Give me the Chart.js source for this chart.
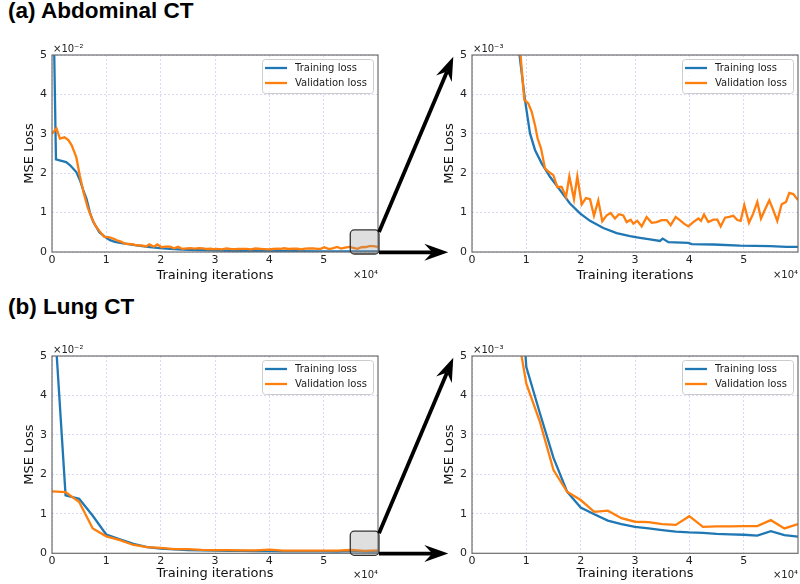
<!DOCTYPE html>
<html lang="en">
<head>
<meta charset="UTF-8">
<title>MSE loss curves</title>
<script src="https://cdn.jsdelivr.net/npm/chart.js"></script>
<style>
    body { margin: 0; background: #fff; }
    #pagina { position: relative; width: 800px; height: 584px; overflow: hidden; }
    canvas { position: absolute; }
    .titulo {
        position: absolute; left: 8px;
        font: bold 22.5px "Liberation Sans", Arial, sans-serif;
        line-height: 22px; color: #000; white-space: nowrap;
    }
</style>
</head>
<body>
<div id="pagina">
    <div class="titulo" style="top:0px">(a) Abdominal CT</div>
    <div class="titulo" style="top:296px">(b) Lung CT</div>

    <canvas id="abdCompleto" width="400" height="250" style="left:0;top:40px"></canvas>
    <canvas id="abdZoom" width="380" height="250" style="left:420px;top:40px"></canvas>
    <canvas id="lungCompleto" width="400" height="244" style="left:0;top:340px"></canvas>
    <canvas id="lungZoom" width="380" height="244" style="left:420px;top:340px"></canvas>

    <canvas id="setas" width="800" height="584" style="left:0;top:0;pointer-events:none"></canvas>
</div>

<script>
    // valores em unidades de 1e-3 (MSE)
    const abdTrainIter = [0, 700, 1500, 2500, 3200, 4300, 5000, 5520, 6100, 6700, 7300, 7900, 8360, 9360,
        10250, 11130, 12310, 13780, 15550, 17310, 19080, 20850, 23200, 25560, 27910, 29680, 31450, 33200,
        33700, 34700, 38220, 38810, 42640, 47350, 52650, 55600, 57600];
    const abdTrain = [85, 23.5, 23.2, 22.8, 22.0, 20.3, 18.0, 15.7, 13.5, 10.0, 7.6, 6.2, 5.04, 3.86,
        3.01, 2.59, 2.25, 1.91, 1.57, 1.23, 0.98, 0.79, 0.61, 0.48, 0.40, 0.36, 0.32, 0.28,
        0.34, 0.25, 0.23, 0.20, 0.19, 0.16, 0.15, 0.13, 0.13];

    const abdValIter = [0, 800, 1400, 2200, 2900, 3500, 4300, 4900, 5600, 6300,
        7000, 7700, 8400, 9240, 9950, 10550, 11130, 11600, 12190, 12900,
        13600, 14370, 15070, 15850, 16610, 17200, 18020, 18610, 19380, 20140,
        20850, 21550, 22310, 23020, 23800, 24500, 25260, 25970, 26730, 27330,
        28040, 28500, 29200, 29980, 30860, 31750, 32630, 33520, 34400, 35100,
        35990, 36870, 37460, 38220, 39100, 39990, 40460, 40990, 41760, 42640,
        43350, 43940, 44700, 45470, 46170, 46880, 47470, 48110, 48940, 49700,
        50410, 51060, 51770, 52530, 53240, 53940, 54710, 55480, 56060, 56770, 57600];
    const abdVal = [30.0, 31.4, 28.8, 29.1, 28.4, 27.0, 24.0, 19.5, 15.0, 11.3,
        8.7, 6.6, 5.3, 3.86, 3.77, 3.56, 3.22, 2.88, 2.63, 2.12,
        2.03, 1.95, 1.65, 1.65, 1.40, 1.92, 1.34, 1.92, 1.21, 1.37,
        1.34, 0.92, 1.31, 0.78, 0.93, 0.99, 0.85, 0.96, 0.93, 0.76,
        0.82, 0.72, 0.79, 0.65, 0.89, 0.74, 0.76, 0.81, 0.81, 0.68,
        0.89, 0.79, 0.72, 0.65, 0.76, 0.85, 0.79, 0.95, 0.76, 0.82,
        0.82, 0.65, 0.87, 0.89, 0.92, 0.81, 0.79, 1.19, 0.74, 0.98,
        1.27, 0.85, 1.08, 1.31, 1.06, 0.79, 1.21, 1.27, 1.50, 1.47, 1.32];

    const lungIter = [0, 2400, 4800, 7200, 9600, 12000, 14400, 16800, 19200, 21600, 24000, 26400, 28800,
        31200, 33600, 36000, 38400, 40800, 43200, 45600, 48000, 50400, 52800, 55200, 57600];
    const lungTrain = [69, 14.7, 13.8, 9.5, 4.72, 3.55, 2.42, 1.56, 1.16, 0.99, 0.83, 0.74, 0.67,
        0.63, 0.59, 0.55, 0.53, 0.52, 0.49, 0.48, 0.47, 0.45, 0.56, 0.46, 0.42];
    const lungVal = [15.7, 15.5, 13.0, 6.3, 4.3, 3.33, 2.11, 1.56, 1.35, 1.05, 1.08, 0.89, 0.80,
        0.79, 0.74, 0.72, 0.94, 0.67, 0.68, 0.68, 0.69, 0.69, 0.84, 0.63, 0.74];

    const xTicks = ['0', '1', '2', '3', '4', '5'];
    const fonte = '"DejaVu Sans", Verdana, sans-serif';
    const corGrade = 'rgba(120,120,225,0.28)';

    // moldura, legenda e textos ×10
    const moldura = {
        id: 'moldura',
        afterDraw(chart, args, opts) {
            const { ctx, chartArea: a } = chart;
            ctx.save();
            ctx.strokeStyle = '#6e6e6e';
            ctx.lineWidth = 1.2;
            ctx.strokeRect(a.left, a.top, a.right - a.left, a.bottom - a.top);

            const w = 111, h = 34;
            const lx = a.right - 5 - w, ly = a.top + 4;
            ctx.fillStyle = 'rgba(255,255,255,0.8)';
            ctx.strokeStyle = '#cccccc';
            ctx.lineWidth = 1;
            ctx.beginPath();
            if (ctx.roundRect) ctx.roundRect(lx + 0.5, ly + 0.5, w, h, 3);
            else ctx.rect(lx + 0.5, ly + 0.5, w, h);
            ctx.fill();
            ctx.stroke();

            ctx.font = '10px ' + fonte;
            ctx.textBaseline = 'middle';
            ctx.textAlign = 'left';
            chart.data.datasets.forEach((ds, i) => {
                const y = ly + 9 + i * 15;
                ctx.strokeStyle = ds.borderColor;
                ctx.lineWidth = 2.3;
                ctx.beginPath();
                ctx.moveTo(lx + 3, y);
                ctx.lineTo(lx + 25, y);
                ctx.stroke();
                ctx.fillStyle = '#1a1a1a';
                ctx.fillText(ds.label, lx + 33, y);
            });

            ctx.textBaseline = 'alphabetic';
            ctx.fillStyle = '#222';
            ctx.fillText(opts.expoenteY, a.left + 1, a.top - 3);
            ctx.textAlign = 'right';
            ctx.fillText('×10⁴', a.right, a.bottom + opts.baseX);
            ctx.restore();
        }
    };

    function criarGrafico(id, cfg) {
        return new Chart(document.getElementById(id), {
            type: 'line',
            data: {
                datasets: [{
                    label: 'Training loss',
                    data: cfg.trainIter.map((x, i) => ({ x: x, y: cfg.train[i] })),
                    borderColor: '#1f77b4',
                    borderWidth: 2.3,
                    pointRadius: 0,
                    tension: 0,
                    order: 2
                }, {
                    label: 'Validation loss',
                    data: cfg.valIter.map((x, i) => ({ x: x, y: cfg.val[i] })),
                    borderColor: '#ff7f0e',
                    borderWidth: 2.3,
                    pointRadius: 0,
                    tension: 0,
                    order: 1
                }]
            },
            options: {
                responsive: false,
                animation: false,
                events: [],
                layout: { padding: { top: cfg.padTop, right: cfg.padRight, bottom: cfg.padBottom, left: 0 } },
                plugins: {
                    legend: { display: false },
                    tooltip: { enabled: false },
                    moldura: { expoenteY: cfg.expoente, baseX: cfg.baseX }
                },
                scales: {
                    x: {
                        type: 'linear',
                        min: 0,
                        max: 57600,
                        afterFit: s => { s.height = cfg.xHeight; },
                        ticks: {
                            stepSize: 10000,
                            includeBounds: false,
                            padding: 1.5,
                            maxRotation: 0,
                            color: '#222',
                            font: { family: fonte, size: 11 },
                            callback: (v, i) => xTicks[i]
                        },
                        grid: { color: corGrade, drawTicks: false },
                        border: { display: false, dash: [2, 2] },
                        title: {
                            display: true,
                            text: 'Training iterations',
                            color: '#111',
                            font: { family: fonte, size: 13 },
                            padding: { top: 0, bottom: 1 }
                        }
                    },
                    y: {
                        min: 0,
                        max: cfg.yMax,
                        afterFit: s => { s.width = 52; },
                        ticks: {
                            stepSize: cfg.yMax / 5,
                            padding: 5,
                            color: '#222',
                            font: { family: fonte, size: 11 },
                            callback: v => String(Math.round(v / cfg.yDiv))
                        },
                        grid: { color: corGrade, drawTicks: false },
                        border: { display: false, dash: [2, 2] },
                        title: {
                            display: true,
                            text: 'MSE Loss',
                            color: '#111',
                            font: { family: fonte, size: 13 },
                            padding: { top: 22, bottom: 0 }
                        }
                    }
                }
            },
            plugins: [moldura]
        });
    }

    const topo = { padTop: 15, padBottom: 6, xHeight: 32, baseX: 26 };
    const baixo = { padTop: 16, padBottom: 2, xHeight: 28.7, baseX: 25 };

    const abdA = criarGrafico('abdCompleto', Object.assign({
        trainIter: abdTrainIter, train: abdTrain, valIter: abdValIter, val: abdVal,
        yMax: 50, yDiv: 10, expoente: '×10⁻²', padRight: 22
    }, topo));
    const abdB = criarGrafico('abdZoom', Object.assign({
        trainIter: abdTrainIter, train: abdTrain, valIter: abdValIter, val: abdVal,
        yMax: 5, yDiv: 1, expoente: '×10⁻³', padRight: 2
    }, topo));
    const lungA = criarGrafico('lungCompleto', Object.assign({
        trainIter: lungIter, train: lungTrain, valIter: lungIter, val: lungVal,
        yMax: 50, yDiv: 10, expoente: '×10⁻²', padRight: 22
    }, baixo));
    const lungB = criarGrafico('lungZoom', Object.assign({
        trainIter: lungIter, train: lungTrain, valIter: lungIter, val: lungVal,
        yMax: 5, yDiv: 1, expoente: '×10⁻³', padRight: 2
    }, baixo));

    // setas e retângulo de zoom
    function seta(ctx, x0, y0, x1, y1) {
        const dx = x1 - x0, dy = y1 - y0, len = Math.hypot(dx, dy);
        const ux = dx / len, uy = dy / len, px = -uy, py = ux;
        const L = 24, W = 8.5, N = 16;
        ctx.lineWidth = 3.8;
        ctx.strokeStyle = '#000';
        ctx.beginPath();
        ctx.moveTo(x0, y0);
        ctx.lineTo(x1 - ux * N, y1 - uy * N);
        ctx.stroke();
        ctx.fillStyle = '#000';
        ctx.beginPath();
        ctx.moveTo(x1, y1);
        ctx.lineTo(x1 - ux * L + px * W, y1 - uy * L + py * W);
        ctx.lineTo(x1 - ux * N, y1 - uy * N);
        ctx.lineTo(x1 - ux * L - px * W, y1 - uy * L - py * W);
        ctx.closePath();
        ctx.fill();
    }

    function desenharZoom(esq, dir) {
        const ctx = document.getElementById('setas').getContext('2d');
        const ce = esq.canvas, cd = dir.canvas;
        const ox = ce.offsetLeft, oy = ce.offsetTop;
        const rx0 = ox + esq.scales.x.getPixelForValue(52700);
        const rx1 = ox + esq.chartArea.right + 1;
        const ry0 = oy + esq.scales.y.getPixelForValue(5.6);
        const ry1 = oy + esq.chartArea.bottom + 2;

        ctx.save();
        ctx.fillStyle = 'rgba(150,150,150,0.3)';
        ctx.strokeStyle = '#333';
        ctx.lineWidth = 1.3;
        ctx.beginPath();
        if (ctx.roundRect) ctx.roundRect(rx0, ry0, rx1 - rx0, ry1 - ry0, 4);
        else ctx.rect(rx0, ry0, rx1 - rx0, ry1 - ry0);
        ctx.fill();
        ctx.stroke();

        const dl = cd.offsetLeft + dir.chartArea.left;
        const dt = cd.offsetTop + dir.chartArea.top;
        seta(ctx, rx1, ry0 + 2, dl - 18.7, dt + 1.7);
        seta(ctx, rx1, ry1 - 1.7, dl - 23.7, ry1 - 1.7);
        ctx.restore();
    }

    desenharZoom(abdA, abdB);
    desenharZoom(lungA, lungB);
</script>
</body>
</html>
